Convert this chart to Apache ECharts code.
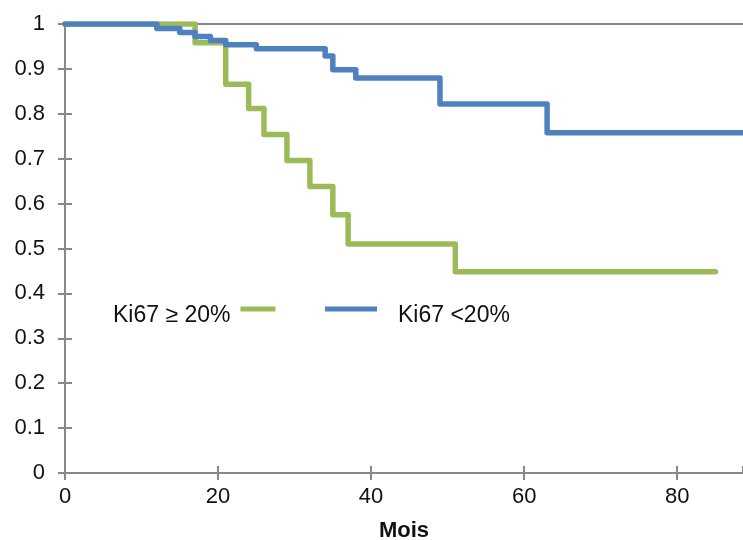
<!DOCTYPE html>
<html>
<head>
<meta charset="utf-8">
<script src="https://cdn.jsdelivr.net/npm/echarts@6/dist/echarts.min.js"></script>
<style>html,body{margin:0;padding:0;background:#fff}#chart{width:743px;height:540px}</style>
</head>
<body>
<div id="chart"></div>
<script>
// ---- data ----
const seriesNames = ['Ki67 \u2265 20%', 'Ki67 <20%'];
const highTimes    = [0, 17, 21, 24, 26, 29, 32, 35, 37, 51, 85];
const highSurvival = [1, 0.958, 0.866, 0.812, 0.754, 0.696, 0.638, 0.575, 0.510, 0.448, 0.448];
const lowTimes     = [0, 12, 15, 17, 19, 21, 25, 34, 35, 38, 49, 63, 88.6];
const lowSurvival  = [1, 0.990, 0.981, 0.972, 0.963, 0.954, 0.945, 0.929, 0.898, 0.880, 0.822, 0.758, 0.758];
const xTickLabels = ['0', '20', '40', '60', '80'];
const yTickLabels = ['0', '0.1', '0.2', '0.3', '0.4', '0.5', '0.6', '0.7', '0.8', '0.9', '1'];
const xAxisTitle = 'Mois';
const xMax = 88.6;

const FONT = '"Liberation Sans", Arial, sans-serif';
const AXIS_COLOR = '#888888';
const zip = (a, b) => a.map((v, i) => [v, b[i]]);
// legend swatch: bar at the top of the item box, so the label sits a bit lower
const swatch = w => 'path://M0,0H' + w + 'V5H0Z M0,17.99H0.01V18H0Z';

const chart = echarts.init(document.getElementById('chart'), null, {renderer: 'canvas'});
const option = {
  animation: false,
  backgroundColor: '#ffffff',
  grid: {left: 65, top: 24, right: 0, bottom: 67, containLabel: false, outerBoundsMode: 'none'},
  legend: [
    {
      data: [seriesNames[0]], left: 113, top: 304, padding: 0,
      align: 'right', icon: swatch(35), itemWidth: 35, itemHeight: 18,
      selectedMode: false,
      textStyle: {fontFamily: FONT, fontSize: 23, color: '#111', padding: [0, 5, 0, 0]}
    },
    {
      data: [seriesNames[1]], left: 325, top: 304, padding: 0,
      align: 'left', icon: swatch(52), itemWidth: 52, itemHeight: 18,
      selectedMode: false,
      textStyle: {fontFamily: FONT, fontSize: 23, color: '#111', padding: [0, 0, 0, 16]}
    }
  ],
  xAxis: [
    {
      type: 'value', position: 'bottom', min: 0, max: xMax, interval: 20,
      name: xAxisTitle, nameLocation: 'middle', nameGap: 47,
      nameTextStyle: {fontFamily: FONT, fontSize: 22, fontWeight: 'bold', color: '#111'},
      axisLine: {show: true, lineStyle: {color: AXIS_COLOR, width: 2}},
      axisTick: {show: true, inside: false, length: 7, lineStyle: {color: AXIS_COLOR, width: 2}},
      axisLabel: {
        margin: 13, fontFamily: FONT, fontSize: 22, color: '#111', showMaxLabel: false,
        formatter: v => { const s = String(v); return xTickLabels.includes(s) ? s : ''; }
      },
      splitLine: {show: false}
    },
    {
      type: 'value', position: 'bottom', min: 0, max: xMax, interval: 20,
      axisLine: {show: false},
      axisTick: {show: true, inside: true, length: 7, lineStyle: {color: AXIS_COLOR, width: 2}},
      axisLabel: {show: false},
      splitLine: {show: false}
    },
    {
      type: 'value', position: 'top', min: 0, max: xMax, interval: 20,
      axisLine: {show: true, lineStyle: {color: AXIS_COLOR, width: 2}},
      axisTick: {show: false}, axisLabel: {show: false}, splitLine: {show: false}
    }
  ],
  yAxis: [
    {
      type: 'value', position: 'left', min: 0, max: 1, interval: 0.1,
      axisLine: {show: true, lineStyle: {color: AXIS_COLOR, width: 2}},
      axisTick: {show: true, inside: false, length: 7, lineStyle: {color: AXIS_COLOR, width: 2}},
      axisLabel: {
        margin: 20, fontFamily: FONT, fontSize: 22, color: '#111',
        formatter: v => { const s = String(Math.round(v * 10) / 10); return yTickLabels.includes(s) ? s : ''; }
      },
      splitLine: {show: false}
    },
    {
      type: 'value', position: 'left', min: 0, max: 1, interval: 0.1,
      axisLine: {show: false},
      axisTick: {show: true, inside: true, length: 7, lineStyle: {color: AXIS_COLOR, width: 2}},
      axisLabel: {show: false},
      splitLine: {show: false}
    }
  ],
  series: [
    {
      name: seriesNames[0], type: 'line', step: 'end', showSymbol: false, symbol: 'none',
      xAxisIndex: 0, yAxisIndex: 0,
      color: '#9BBB59',
      lineStyle: {width: 5.5, color: '#9BBB59', join: 'round', cap: 'round'},
      data: zip(highTimes, highSurvival)
    },
    {
      name: seriesNames[1], type: 'line', step: 'end', showSymbol: false, symbol: 'none',
      xAxisIndex: 0, yAxisIndex: 0,
      color: '#4F81BD',
      lineStyle: {width: 5.5, color: '#4F81BD', join: 'round', cap: 'round'},
      data: zip(lowTimes, lowSurvival)
    }
  ]
};
chart.setOption(option);
</script>
</body>
</html>
